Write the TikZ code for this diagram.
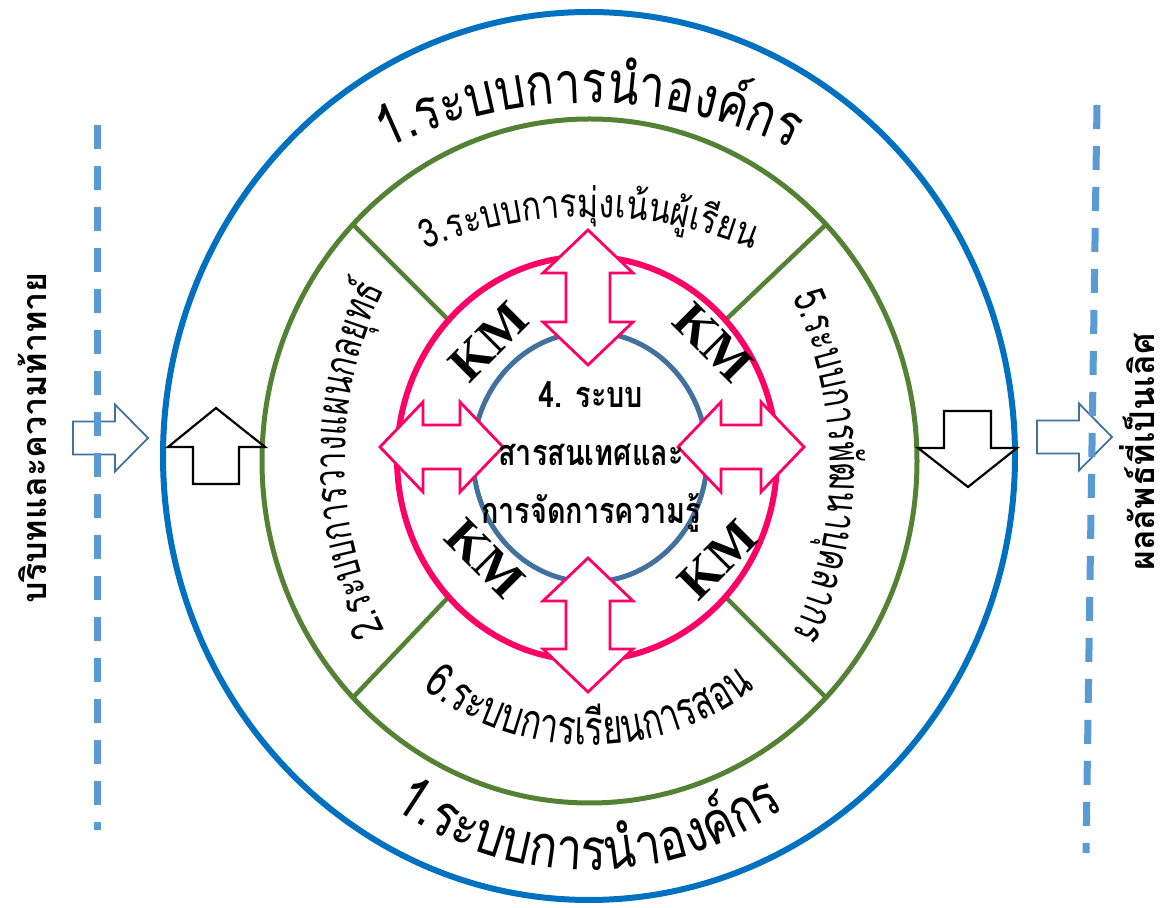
\documentclass[tikz,border=0pt]{standalone}
\usepackage{fontspec}
\setmainfont{Liberation Serif}
\newfontfamily\thaifont[Script=Thai]{Loma}
\newfontfamily\thaiarc[Script=Thai,FakeStretch=0.8]{Loma}
\newfontfamily\thainarrow[Script=Thai,FakeStretch=0.7]{Loma}
\usetikzlibrary{
shapes.geometric,
decorations.text
}
\definecolor{ringblue}{HTML}{0070C0}
\definecolor{ringgreen}{HTML}{548235}
\definecolor{ringpink}{HTML}{FF0066}
\definecolor{coreblue}{HTML}{41719C}
\definecolor{sideblue}{HTML}{5B9BD5}

\begin{document}
\begin{tikzpicture}[
        x=1pt, y=1pt,
        ring/.style={
          ellipse, inner sep=0pt, outer sep=0pt,
        },
        blockarrow/.style={
          draw=black, line width=2.2pt, fill=white,
        },
        flowarrow/.style={
          draw=coreblue, line width=1.8pt, fill=white,
        },
        kmarrow/.style={
          draw=ringpink, line width=2.8pt, fill=white,
        },
        boundary/.style={
          sideblue, line width=7pt, dash pattern=on 24pt off 17pt,
        },
        km/.style={
          font=\fontsize{51}{51}\selectfont\bfseries,
        },
        sidetext/.style={
          rotate=90, anchor=base, font=\thaifont\bfseries\fontsize{34}{34}\selectfont,
        },
        arctext/.style={
          decorate,
          decoration={text along path, text align=center, text={#1}},
        },
        ]
        \useasboundingbox [fill=white] (0,0) rectangle (1171,908);

        \node [ring, draw=ringblue, line width=6pt,
          minimum width=852pt, minimum height=888pt] (outer) at (589,452) {};
        \node [ring, draw=ringgreen, line width=5pt,
          minimum width=655pt, minimum height=684pt] (green) at (589.5,447) {};
        \node [ring, minimum width=380pt, minimum height=404pt] (pink) at (587,449.5) {};

        \foreach \a in {45,135,225,315}
          \draw [ringgreen, line width=4.5pt] (green.\a) -- (pink.\a);

        \draw [ringpink, line width=6pt, fill=white] (pink.center) ellipse [x radius=190, y radius=202];
        \node [ring, draw=coreblue, line width=5pt,
          minimum width=234pt, minimum height=250pt] (core) at (590,451) {};

        \foreach \cx/\cy/\rot/\len in {588/610.5/90/135, 588/283/90/134, 441.5/461/0/123, 741/461/0/126}
          \draw [kmarrow, shift={(\cx,\cy)}, rotate=\rot]
            (-\len/2,0) -- ++(43,45) -- ++(0,-23) -- (\len/2-43,22) -- ++(0,23)
            -- (\len/2,0) -- ++(-43,-45) -- ++(0,23) -- (-\len/2+43,-22) -- ++(0,-23) -- cycle;

        \node [km, rotate=45] (km-nw) at (489,566) {KM};
        \node [km, rotate=-45] (km-ne) at (713,565) {KM};
        \node [km, rotate=-45] (km-sw) at (485,349) {KM};
        \node [km, rotate=45] (km-se) at (718,348) {KM};

        \node [align=center, font=\thaiarc\bfseries\fontsize{36}{58}\selectfont] (core-text) at (591,451)
          {4. ระบบ\\สารสนเทศและ\\การจัดการความรู้};

        % system names around the rings
        \path [arctext={|\thaiarc\fontsize{58}{58}\selectfont|1.ระบบการ{นำ}อง{ค์}กร}]
          (589,334) ++(130:471) arc [start angle=130, end angle=50, radius=471];
        \path [arctext={|\thaiarc\fontsize{58}{58}\selectfont|1.ระบบการ{นำ}อง{ค์}กร}]
          (589,377) ++(225:339) arc [start angle=225, end angle=315, radius=339];
        \path [arctext={|\thaiarc\fontsize{40}{40}\selectfont|3.ระบบการ{มุ่}งเ{น้}น{ผู้}เ{รี}ยน}]
          (589,261) ++(125:430) arc [start angle=125, end angle=55, radius=430];
        \path [arctext={|\thainarrow\fontsize{48}{48}\selectfont|6.ระบบการเ{รี}ยนการสอน}]
          (589,435) ++(215:272) arc [start angle=215, end angle=325, radius=272];
        \path [arctext={|\thainarrow\fontsize{44}{44}\selectfont|2.ระบบการวางแผนกล{ยุ}ท{ธ์}}]
          (735,448) ++(215:390) arc [start angle=215, end angle=145, radius=390];
        \path [arctext={|\thainarrow\fontsize{44}{44}\selectfont|5.ระบบการ{พั}ฒนา{บุ}คลากร}]
          (430,442) ++(35:400) arc [start angle=35, end angle=-35, radius=400];

        % block arrows between the rings
        \draw [blockarrow] (168,461) -- (216,500) -- (265,461) -- (239,461)
          -- (239,424) -- (193,424) -- (193,461) -- cycle;
        \draw [blockarrow] (918,460) -- (968,421) -- (1017,460) -- (991,460)
          -- (991,497) -- (944,497) -- (944,460) -- cycle;

        \draw [flowarrow] (73,453.5) -- (115,453.5) -- (115,436.5) -- (148,470)
          -- (115,503.5) -- (115,486.5) -- (73,486.5) -- cycle;
        \draw [flowarrow] (1037,454.5) -- (1079,454.5) -- (1079,437.5) -- (1112,471)
          -- (1079,504.5) -- (1079,487.5) -- (1037,487.5) -- cycle;

        \coordinate (in-top) at (97,783);
        \coordinate (in-bot) at (97,78);
        \coordinate (out-top) at (1097,803);
        \coordinate (out-bot) at (1086,55);
        \draw [boundary] (in-top) -- (in-bot);
        \draw [boundary] (out-top) -- (out-bot);

        \node [sidetext] (context) at (46,470) {บริบทและความท้าทาย};
        \node [sidetext] (results) at (1154,456) {ผลลัพธ์ที่เป็นเลิศ};
      \end{tikzpicture}
\end{document}
